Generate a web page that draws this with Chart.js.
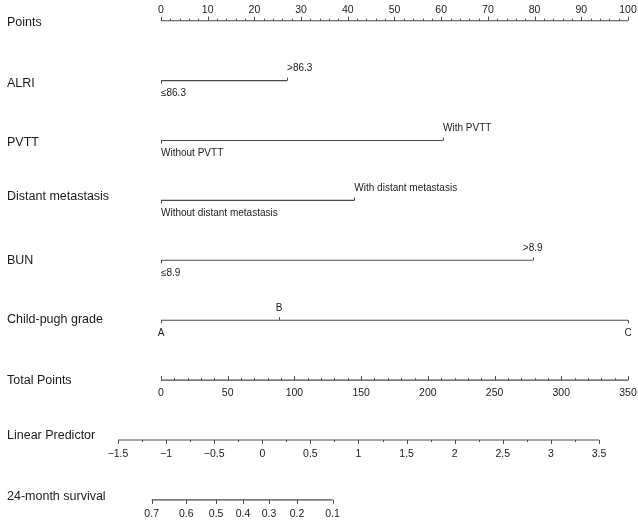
<!DOCTYPE html>
<html>
<head>
<meta charset="utf-8">
<script src="https://cdn.jsdelivr.net/npm/chart.js@4.4.1/dist/chart.umd.min.js"></script>
<style>
  html, body { margin: 0; padding: 0; background: #fff; }
  #wrap { width: 638px; height: 523px; }
</style>
</head>
<body>
<div id="wrap"><canvas id="nomogram"></canvas></div>
<script>
// ---- data ----
const rowNames = ['Points', 'ALRI', 'PVTT', 'Distant metastasis', 'BUN',
    'Child-pugh grade', 'Total Points', 'Linear Predictor', '24-month survival'];

const alriLevels = ['≤86.3', '>86.3'];
const alriPoints = [0, 27];
const pvttLevels = ['Without PVTT', 'With PVTT'];
const pvttPoints = [0, 60.4];
const metaLevels = ['Without distant metastasis', 'With distant metastasis'];
const metaPoints = [0, 41.4];
const bunLevels = ['≤8.9', '>8.9'];
const bunPoints = [0, 79.6];
const childLevels = ['A', 'B', 'C'];
const childPoints = [0, 25.3, 100];

const pointTicks = [0, 10, 20, 30, 40, 50, 60, 70, 80, 90, 100];
const totalTicks = [0, 50, 100, 150, 200, 250, 300, 350];
const lpTicks = [-1.5, -1, -0.5, 0, 0.5, 1, 1.5, 2, 2.5, 3, 3.5];
const survTicks = [0.7, 0.6, 0.5, 0.4, 0.3, 0.2, 0.1];
// linear predictor value where each survival tick sits
const survAtLp = [-1.15, -0.79, -0.48, -0.20, 0.07, 0.36, 0.73];

// scale relations between the axes
const maxTotal = 350;        // total points that equal 100 points on the top axis
const lpAtZero = -1.053;     // linear predictor at 0 total points
const lpPerTotal = 0.01387;  // change of linear predictor per total point

// ---- helpers ----
const totalToPts = t => t * 100 / maxTotal;
const lpToPts = lp => totalToPts((lp - lpAtZero) / lpPerTotal);
const fmt = v => String(v).replace('-', '\u2212');

// predictor rows: row index, levels, points, label side (1 up, -1 down), label align
const predictors = [
    { row: 1, levels: alriLevels, pts: alriPoints, side: [-1, 1], align: ['left', 'left'] },
    { row: 2, levels: pvttLevels, pts: pvttPoints, side: [-1, 1], align: ['left', 'left'] },
    { row: 3, levels: metaLevels, pts: metaPoints, side: [-1, 1], align: ['left', 'left'] },
    { row: 4, levels: bunLevels, pts: bunPoints, side: [-1, 1], align: ['left', 'center'] },
    { row: 5, levels: childLevels, pts: childPoints, side: [-1, 1, -1], align: ['center', 'center', 'center'] }
];
// small vertical nudges of the row names, px
const nameShift = [2, 3, 2, -4, 0, -1, 0, -4, -3];

const LINE = '#4a4a4a';
const TEXT = '#1a1a1a';
const FONT = '"Liberation Sans", Arial, sans-serif';

// datasets: one segment per predictor plus the four axis baselines
const datasets = predictors.map(p => ({
    data: [{ x: Math.min(...p.pts), y: p.row }, { x: Math.max(...p.pts), y: p.row }]
}));
datasets.push({ data: [{ x: pointTicks[0], y: 0 }, { x: pointTicks[pointTicks.length - 1], y: 0 }] });
datasets.push({ data: [{ x: totalToPts(totalTicks[0]), y: 6 }, { x: totalToPts(totalTicks[totalTicks.length - 1]), y: 6 }] });
datasets.push({ data: [{ x: lpToPts(lpTicks[0]), y: 7 }, { x: lpToPts(lpTicks[lpTicks.length - 1]), y: 7 }] });
datasets.push({ data: [{ x: lpToPts(survAtLp[0]), y: 8 }, { x: lpToPts(survAtLp[survAtLp.length - 1]), y: 8 }] });
datasets.forEach(d => {
    d.borderColor = LINE;
    d.borderWidth = 1.1;
    d.pointRadius = 0;
    d.fill = false;
    d.tension = 0;
});

// ticks and text drawn against the chart scales
const nomogramPlugin = {
    id: 'nomogram',
    afterDatasetsDraw(chart) {
        const { ctx, scales: { x, y } } = chart;
        ctx.save();
        ctx.strokeStyle = LINE;
        ctx.lineWidth = 1;
        ctx.fillStyle = TEXT;

        const tick = (v, row, len) => {
            const px = Math.round(x.getPixelForValue(v)) + 0.5;
            const py = y.getPixelForValue(row);
            ctx.beginPath();
            ctx.moveTo(px, py);
            ctx.lineTo(px, py - len);
            ctx.stroke();
        };
        const text = (str, v, row, dy, align) => {
            ctx.textAlign = align;
            ctx.textBaseline = 'middle';
            ctx.fillText(str, x.getPixelForValue(v), y.getPixelForValue(row) + dy);
        };

        // row names
        ctx.font = '12.5px ' + FONT;
        rowNames.forEach((name, i) => {
            ctx.textAlign = 'left';
            ctx.textBaseline = 'middle';
            ctx.fillText(name, 7, y.getPixelForValue(i) + nameShift[i]);
        });

        // Points axis: ticks up, labels above
        ctx.font = '10.5px ' + FONT;
        for (let v = 0; v <= 100; v += 2) tick(v, 0, v % 10 === 0 ? 4 : 2);
        pointTicks.forEach(v => text(fmt(v), v, 0, -11, 'center'));

        // predictors
        ctx.font = '10px ' + FONT;
        predictors.forEach(p => {
            p.pts.forEach((v, i) => {
                tick(v, p.row, 3 * p.side[i]);
                text(p.levels[i], v, p.row, p.side[i] > 0 ? -12 : 13, p.align[i]);
            });
        });

        // Total Points axis: ticks up, labels below
        ctx.font = '10.5px ' + FONT;
        for (let v = 0; v <= maxTotal; v += 10) tick(totalToPts(v), 6, v % 50 === 0 ? 4 : 2);
        totalTicks.forEach(v => text(fmt(v), totalToPts(v), 6, 13, 'center'));

        // Linear predictor: ticks down, labels below
        for (let v = lpTicks[0]; v <= lpTicks[lpTicks.length - 1] + 1e-9; v += 0.25) {
            tick(lpToPts(v), 7, Math.abs(v * 2 - Math.round(v * 2)) < 1e-6 ? -4 : -2);
        }
        lpTicks.forEach(v => text(fmt(v), lpToPts(v), 7, 14, 'center'));

        // survival: ticks down, labels below
        survTicks.forEach((v, i) => {
            tick(lpToPts(survAtLp[i]), 8, -4);
            text(fmt(v), lpToPts(survAtLp[i]), 8, 14.5, 'center');
        });
        ctx.restore();
    }
};

// pixel anchors: 0 points at x=161, 100 points at x=628; row 0 at y=20.7, 60 px per row
const W = 638, H = 523;
const x0 = 161, x100 = 628, yRow0 = 20.7, rowGap = 59.9;
const pxPerPt = (x100 - x0) / 100;

new Chart(document.getElementById('nomogram'), {
    type: 'line',
    data: { datasets },
    options: {
        responsive: true,
        maintainAspectRatio: false,
        animation: false,
        layout: { padding: 0 },
        plugins: { legend: { display: false }, tooltip: { enabled: false } },
        scales: {
            x: { type: 'linear', display: false, min: -x0 / pxPerPt, max: (W - x0) / pxPerPt },
            y: { type: 'linear', display: false, reverse: true, min: -yRow0 / rowGap, max: (H - yRow0) / rowGap }
        }
    },
    plugins: [nomogramPlugin]
});
</script>
</body>
</html>
